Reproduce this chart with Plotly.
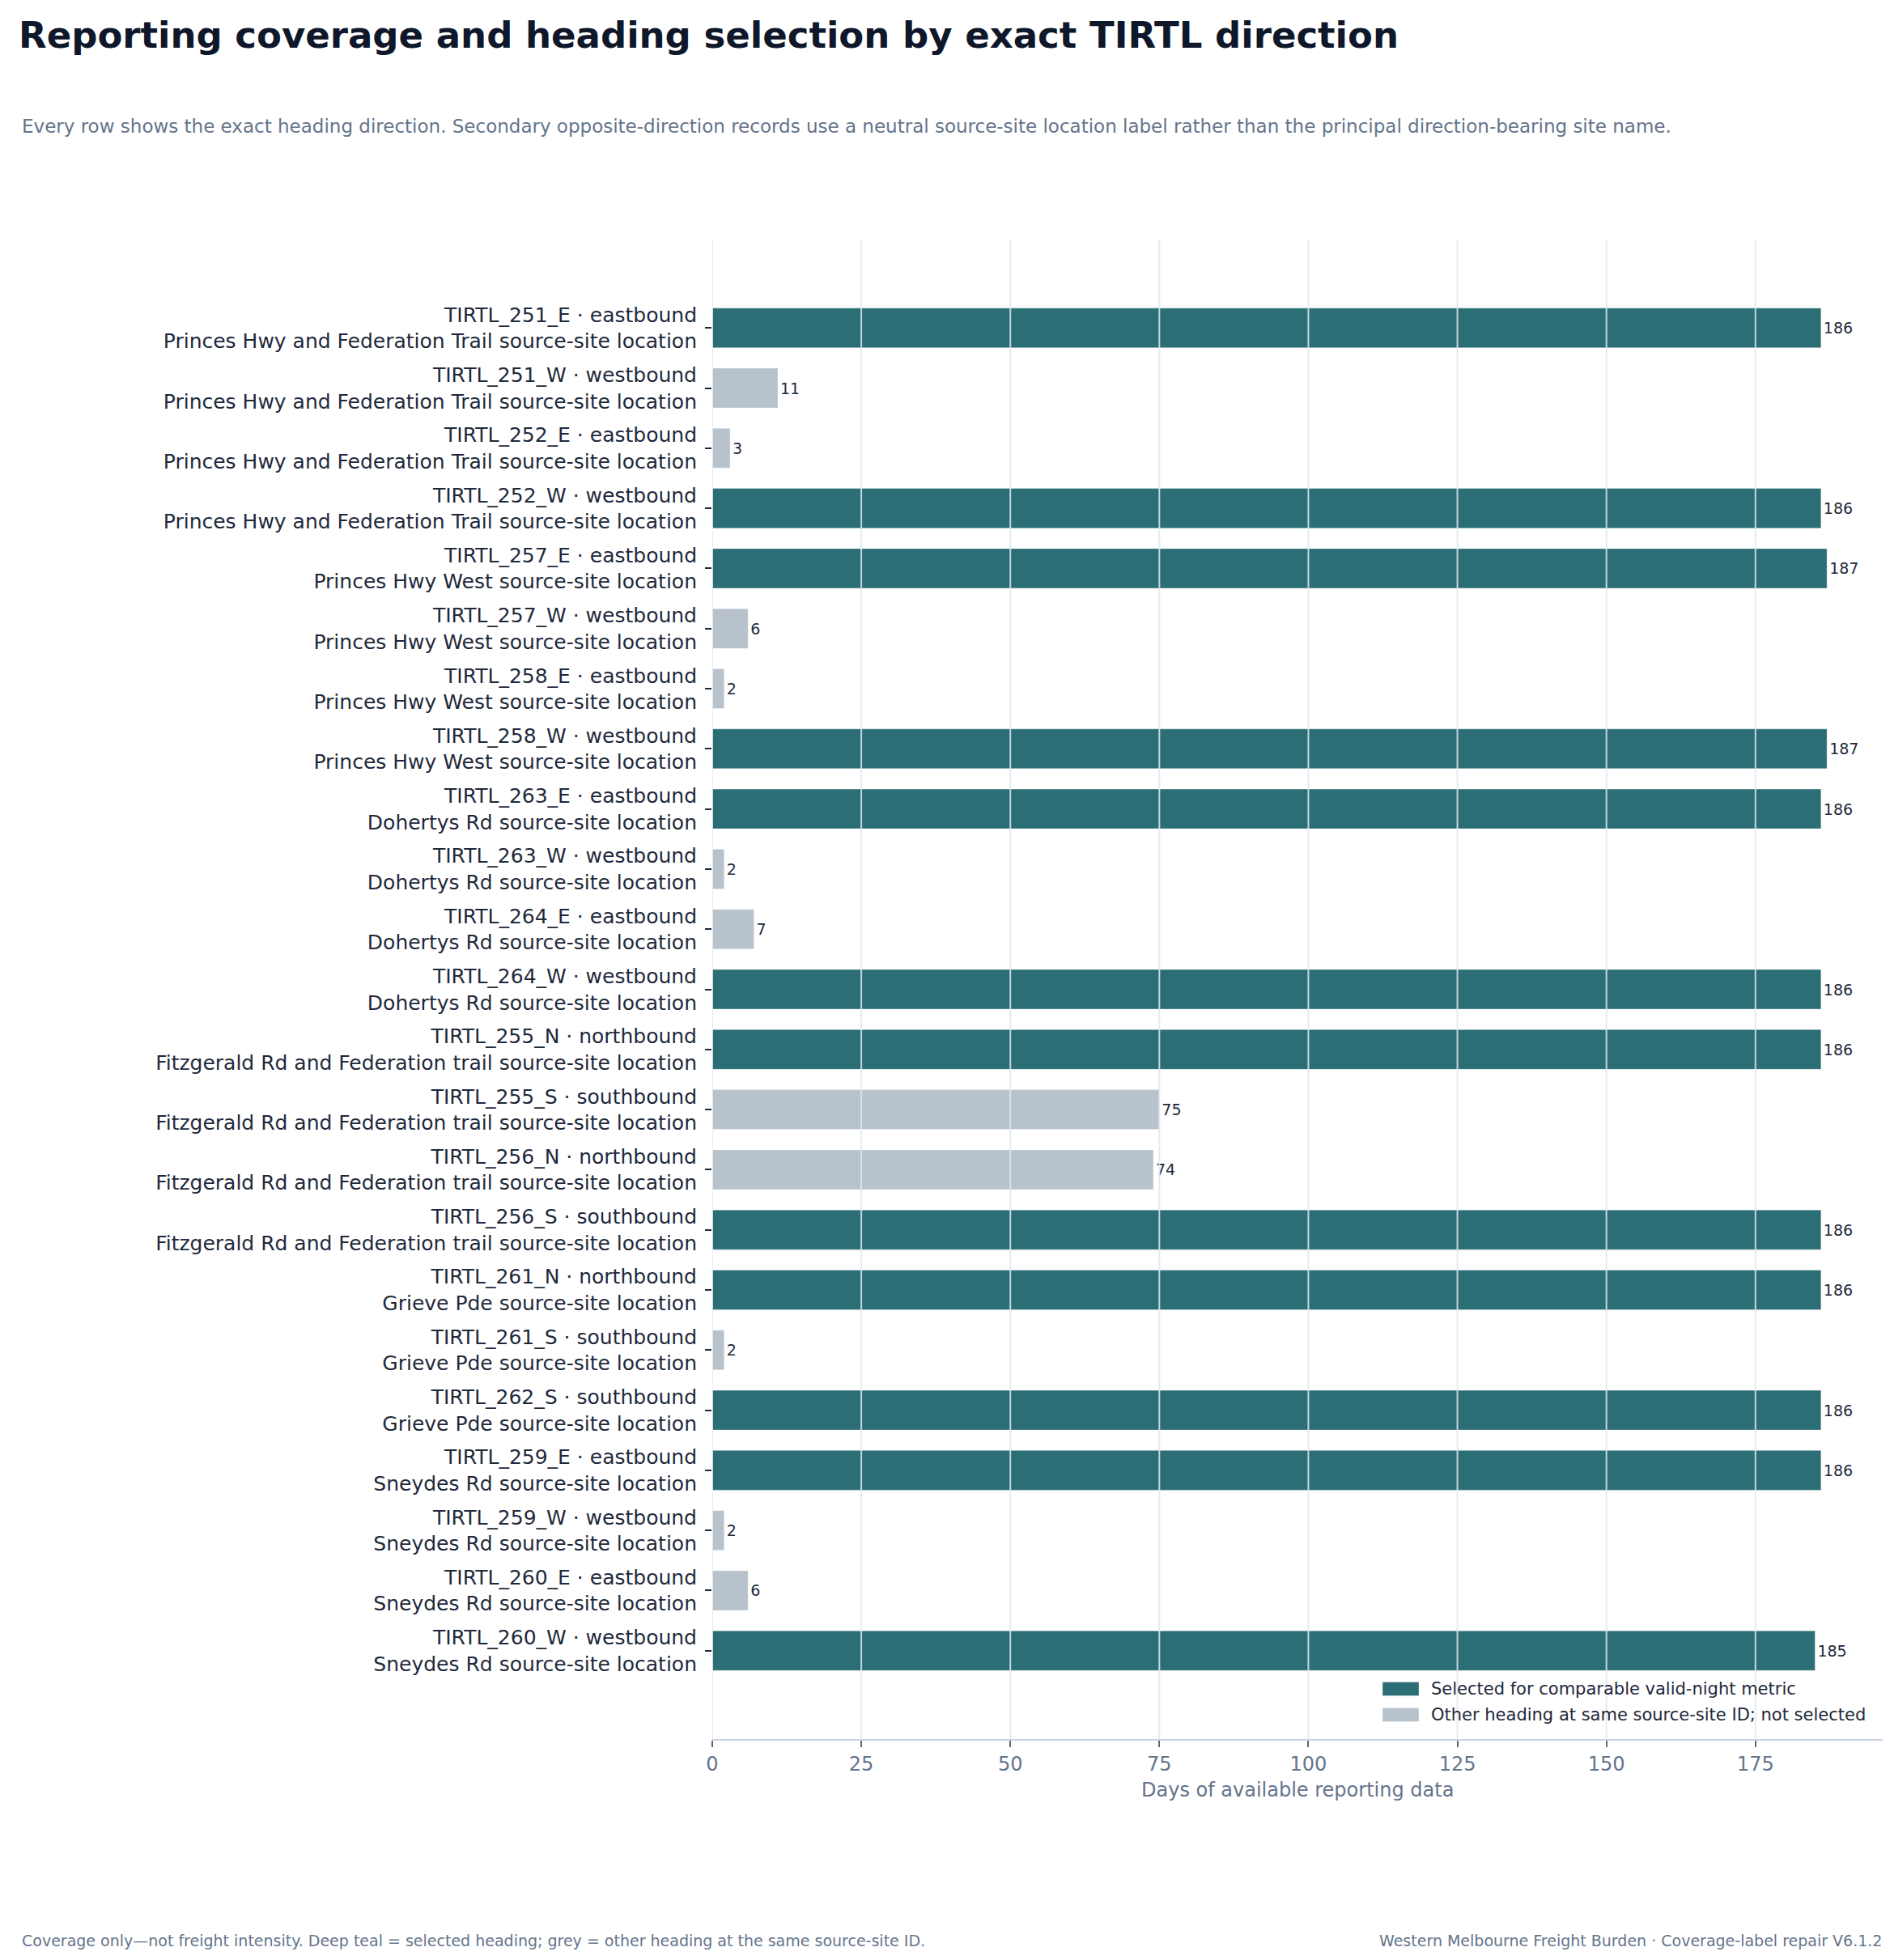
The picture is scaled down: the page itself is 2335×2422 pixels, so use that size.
import plotly.graph_objects as go

# rows top to bottom
site_ids = ["TIRTL_251_E", "TIRTL_251_W", "TIRTL_252_E", "TIRTL_252_W",
            "TIRTL_257_E", "TIRTL_257_W", "TIRTL_258_E", "TIRTL_258_W",
            "TIRTL_263_E", "TIRTL_263_W", "TIRTL_264_E", "TIRTL_264_W",
            "TIRTL_255_N", "TIRTL_255_S", "TIRTL_256_N", "TIRTL_256_S",
            "TIRTL_261_N", "TIRTL_261_S", "TIRTL_262_S",
            "TIRTL_259_E", "TIRTL_259_W", "TIRTL_260_E", "TIRTL_260_W"]
headings = ["eastbound", "westbound", "eastbound", "westbound",
            "eastbound", "westbound", "eastbound", "westbound",
            "eastbound", "westbound", "eastbound", "westbound",
            "northbound", "southbound", "northbound", "southbound",
            "northbound", "southbound", "southbound",
            "eastbound", "westbound", "eastbound", "westbound"]
locations = ["Princes Hwy and Federation Trail"] * 4 + ["Princes Hwy West"] * 4 + \
            ["Dohertys Rd"] * 4 + ["Fitzgerald Rd and Federation trail"] * 4 + \
            ["Grieve Pde"] * 3 + ["Sneydes Rd"] * 4
days = [186, 11, 3, 186, 187, 6, 2, 187, 186, 2, 7, 186,
        186, 75, 74, 186, 186, 2, 186, 186, 2, 6, 185]
selected = [True, False, False, True, True, False, False, True, True, False, False, True,
            True, False, False, True, True, False, True, True, False, False, True]

x_ticks = [0, 25, 50, 75, 100, 125, 150, 175]

TEAL = "#2c6e75"
GREY = "#b8c2cc"
DARK = "#1e293b"
MUTED = "#64748b"

legend_names = ["Selected for comparable valid-night metric",
                "Other heading at same source-site ID; not selected"]

labels = [f"{s} · {h}<br>{loc} source-site location" for s, h, loc in zip(site_ids, headings, locations)]

W, H = 2335, 2422
ML, MR, MT, MB = 872, 17, 288, 281
PW = W - ML - MR
PH = H - MT - MB


def px_x(p):
    return (p - ML) / PW


def px_y(p):
    return (H - MB - p) / PH


fig = go.Figure()
for flag, name, col in [(True, legend_names[0], TEAL), (False, legend_names[1], GREY)]:
    ys = [l for l, s in zip(labels, selected) if s == flag]
    xs = [d for d, s in zip(days, selected) if s == flag]
    fig.add_trace(go.Bar(
        x=xs, y=ys, orientation="h", name=name, width=0.66, showlegend=False,
        marker=dict(color=col, line=dict(color="rgba(255,255,255,0.35)", width=1)),
        text=[str(v) for v in xs], textposition="outside",
        textfont=dict(size=19, color=DARK), cliponaxis=False,
    ))

# grid drawn over the bars, as in the reference
for t in x_ticks:
    fig.add_shape(type="line", xref="x", yref="paper", x0=t, x1=t, y0=0, y1=1,
                  line=dict(color="#e2e8f0", width=2), layer="above", opacity=0.85)

# legend drawn by hand (wide rectangular swatches)
for i, (name, col) in enumerate(zip(legend_names, [TEAL, GREY])):
    yc = 2079 + i * 32
    fig.add_shape(type="rect", xref="paper", yref="paper",
                  x0=px_x(1700), x1=px_x(1745), y0=px_y(yc - 8.5), y1=px_y(yc + 8.5),
                  fillcolor=col, line=dict(color="rgba(255,255,255,0.35)", width=1), layer="above")
    fig.add_annotation(text=name, xref="paper", yref="paper", x=px_x(1758), y=px_y(yc),
                       xanchor="left", yanchor="middle", showarrow=False,
                       font=dict(size=21, color=DARK))

fig.update_layout(
    width=W, height=H,
    margin=dict(l=ML, r=MR, t=MT, b=MB),
    paper_bgcolor="white", plot_bgcolor="white",
    font=dict(family="DejaVu Sans", color=DARK),
    barmode="overlay",
    title=dict(text="<b>Reporting coverage and heading selection by exact TIRTL direction</b>",
               font=dict(size=45, color="#0f172a"),
               xref="container", x=15 / W, xanchor="left",
               yref="container", y=1 - 35 / H, yanchor="middle"),
    showlegend=False,
    xaxis=dict(range=[0, max(days) * 1.05], tickvals=x_ticks, showgrid=False,
               zeroline=False, showline=True, linecolor="#cbd5e1", linewidth=2,
               ticks="outside", ticklen=8, tickwidth=2, tickcolor="#5b6b7f",
               tickfont=dict(size=24, color=MUTED)),
    yaxis=dict(categoryorder="array", categoryarray=labels, range=[22 + 1.47, -1.47],
               showgrid=False, zeroline=False, showline=False,
               ticks="outside", ticklen=8, tickwidth=2, tickcolor=DARK,
               ticklabelstandoff=5,
               tickfont=dict(size=25, color=DARK)),
)

fig.add_annotation(text="Days of available reporting data", xref="paper", yref="paper",
                   x=0.5, y=px_y(2204), xanchor="center", yanchor="middle",
                   showarrow=False, font=dict(size=24, color=MUTED))
fig.add_annotation(text="Every row shows the exact heading direction. Secondary opposite-direction records use a neutral source-site location label rather than the principal direction-bearing site name.",
                   xref="paper", yref="paper", x=px_x(17), y=px_y(148), xanchor="left", yanchor="middle",
                   showarrow=False, font=dict(size=23, color=MUTED))
fig.add_annotation(text="Coverage only—not freight intensity. Deep teal = selected heading; grey = other heading at the same source-site ID.",
                   xref="paper", yref="paper", x=px_x(17), y=px_y(2390), xanchor="left", yanchor="middle",
                   showarrow=False, font=dict(size=19, color=MUTED))
fig.add_annotation(text="Western Melbourne Freight Burden · Coverage-label repair V6.1.2",
                   xref="paper", yref="paper", x=px_x(2319), y=px_y(2390), xanchor="right", yanchor="middle",
                   showarrow=False, font=dict(size=19, color=MUTED))

fig.write_html("out.html")
